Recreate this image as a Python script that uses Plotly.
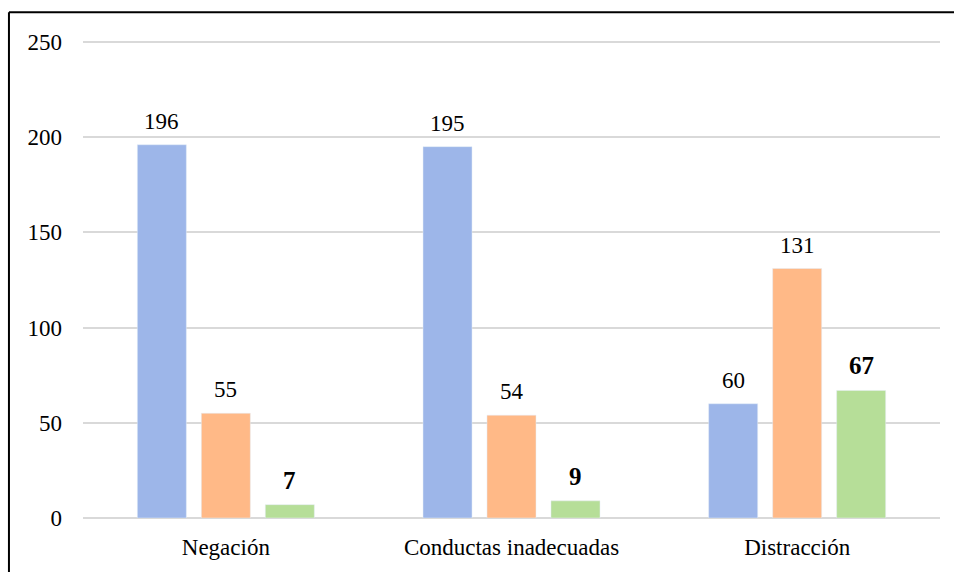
import plotly.graph_objects as go

categories = ["Negación", "Conductas inadecuadas", "Distracción"]
serie_azul = [196, 195, 60]
serie_naranja = [55, 54, 131]
serie_verde = [7, 9, 67]
y_ticks = [0, 50, 100, 150, 200, 250]

FONT = "Liberation Serif, Times New Roman, serif"
SLOT_PX = 64  # pixel distance between bars inside a group

fig = go.Figure()
series = [
    (serie_azul, "#9DB6E9", False),
    (serie_naranja, "#FFB987", False),
    (serie_verde, "#B6DE98", True),
]
for i, (vals, color, bold) in enumerate(series):
    fig.add_trace(go.Bar(x=categories, y=vals, marker_color=color))
    for cat, v in zip(categories, vals):
        fig.add_annotation(
            x=cat, y=v, xref="x", yref="y", showarrow=False,
            yanchor="bottom", xshift=(i - 1) * SLOT_PX, yshift=9 if not bold else 9,
            text=f"<b>{v}</b>" if bold else str(v),
            font=dict(family=FONT, size=25 if bold else 23, color="#000"),
        )

fig.update_layout(
    width=954, height=572,
    margin=dict(l=83, r=14, t=40, b=51),
    paper_bgcolor="white", plot_bgcolor="white",
    showlegend=False,
    barmode="group", bargap=0.328, bargroupgap=0.234,
    font=dict(family=FONT, size=23, color="#000"),
    xaxis=dict(showline=False, ticks="", tickfont=dict(size=23), ticklabelstandoff=13),
    yaxis=dict(range=[0, 251], tickvals=y_ticks, showgrid=True, gridcolor="#D9D9D9",
               gridwidth=2, zeroline=True, zerolinecolor="#D9D9D9", zerolinewidth=2,
               tickfont=dict(size=23), ticklabelstandoff=20, showline=False),
    shapes=[
        dict(type="line", xref="paper", yref="paper", x0=-0.0864, x1=-0.0864,
             y0=1.0582, y1=-0.2, line=dict(color="black", width=2)),
        dict(type="line", xref="paper", yref="paper", x0=-0.0864, x1=1.05,
             y0=1.0582, y1=1.0582, line=dict(color="black", width=2)),
    ],
)

fig.write_html("out.html")
